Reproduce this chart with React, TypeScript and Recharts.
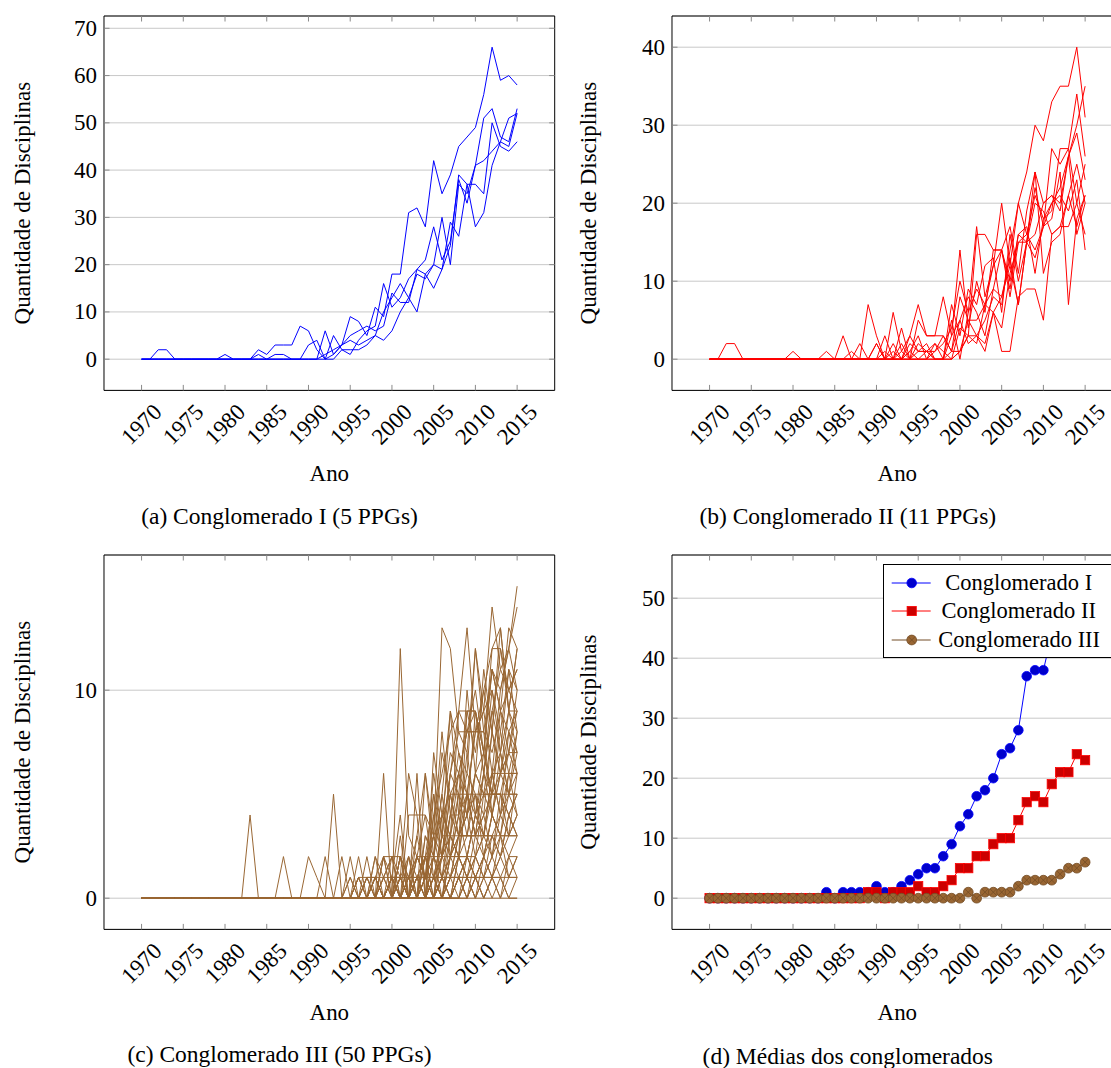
import React from 'react';
import { LineChart, Line, XAxis, YAxis, CartesianGrid, ReferenceArea, Legend } from 'recharts';

const years = [
  1970, 1971, 1972, 1973, 1974, 1975, 1976, 1977, 1978, 1979,
  1980, 1981, 1982, 1983, 1984, 1985, 1986, 1987, 1988, 1989,
  1990, 1991, 1992, 1993, 1994, 1995, 1996, 1997, 1998, 1999,
  2000, 2001, 2002, 2003, 2004, 2005, 2006, 2007, 2008, 2009,
  2010, 2011, 2012, 2013, 2014, 2015,
];
const xTicks = [1970, 1975, 1980, 1985, 1990, 1995, 2000, 2005, 2010, 2015];

// (a) Conglomerado I, 5 PPGs
const aSeries = [
  [0, 0, 0, 0, 0, 0, 0, 0, 0, 0, 0, 0, 0, 0, 2, 1, 3, 3, 3, 7, 6, 2, 0, 1, 3, 9, 8, 5, 11, 9, 18, 18, 31, 32, 28, 42, 35, 39, 45, 47, 49, 56, 66, 59, 60, 58],
  [0, 0, 0, 0, 0, 0, 0, 0, 0, 0, 0, 0, 0, 0, 1, 0, 1, 1, 0, 0, 3, 4, 0, 5, 2, 1, 4, 6, 7, 16, 11, 13, 17, 19, 21, 28, 21, 25, 38, 33, 41, 51, 53, 47, 46, 53],
  [0, 0, 0, 0, 0, 0, 0, 0, 0, 0, 0, 0, 0, 0, 0, 0, 0, 0, 0, 0, 0, 0, 6, 1, 3, 5, 6, 7, 6, 7, 14, 12, 12, 19, 18, 15, 19, 29, 26, 37, 37, 35, 50, 45, 44, 46],
  [0, 0, 0, 0, 0, 0, 0, 0, 0, 0, 0, 0, 0, 0, 0, 0, 0, 0, 0, 0, 0, 0, 1, 2, 3, 4, 3, 4, 5, 4, 6, 10, 13, 10, 18, 20, 19, 24, 39, 37, 28, 31, 41, 46, 51, 52],
  [0, 0, 2, 2, 0, 0, 0, 0, 0, 0, 1, 0, 0, 0, 0, 0, 0, 0, 0, 0, 0, 0, 0, 0, 2, 2, 2, 3, 5, 10, 13, 16, 13, 18, 17, 20, 30, 20, 37, 35, 41, 42, 44, 46, 45, 52],
];
const aTicks = [0, 10, 20, 30, 40, 50, 60, 70];

// (b) Conglomerado II, 11 PPGs
const bSeries = [
  [0, 0, 2, 2, 0, 0, 0, 0, 0, 0, 0, 0, 0, 0, 0, 0, 0, 0, 0, 0, 0, 0, 0, 0, 0, 0, 0, 0, 0, 0, 1, 3, 3, 5, 8, 7, 14, 20, 24, 30, 28, 33, 35, 35, 40, 31],
  [0, 0, 0, 0, 0, 0, 0, 0, 0, 0, 1, 0, 0, 0, 0, 0, 0, 0, 0, 7, 3, 0, 0, 1, 0, 2, 1, 1, 2, 4, 10, 6, 17, 8, 12, 14, 17, 11, 19, 24, 20, 21, 19, 26, 30, 35],
  [0, 0, 0, 0, 0, 0, 0, 0, 0, 0, 0, 0, 0, 0, 1, 0, 3, 0, 0, 0, 2, 0, 6, 1, 3, 7, 3, 3, 8, 3, 14, 4, 10, 6, 14, 14, 9, 16, 15, 22, 17, 27, 25, 27, 34, 26],
  [0, 0, 0, 0, 0, 0, 0, 0, 0, 0, 0, 0, 0, 0, 0, 0, 0, 1, 0, 0, 0, 3, 0, 4, 0, 5, 3, 3, 3, 1, 8, 5, 5, 7, 12, 20, 12, 20, 16, 21, 18, 19, 27, 27, 20, 25],
  [0, 0, 0, 0, 0, 0, 0, 0, 0, 0, 0, 0, 0, 0, 0, 0, 0, 0, 2, 0, 2, 0, 1, 0, 3, 1, 1, 2, 0, 7, 3, 9, 7, 12, 13, 6, 16, 10, 15, 16, 20, 21, 20, 26, 29, 23],
  [0, 0, 0, 0, 0, 0, 0, 0, 0, 0, 0, 0, 0, 0, 0, 0, 0, 0, 0, 0, 0, 1, 0, 0, 1, 3, 0, 1, 3, 1, 5, 8, 6, 3, 9, 8, 13, 7, 15, 13, 17, 18, 24, 7, 18, 21],
  [0, 0, 0, 0, 0, 0, 0, 0, 0, 0, 0, 0, 0, 0, 0, 0, 0, 0, 0, 0, 0, 0, 2, 0, 1, 0, 0, 2, 1, 0, 1, 5, 3, 2, 6, 4, 11, 15, 15, 20, 19, 16, 17, 21, 17, 21],
  [0, 0, 0, 0, 0, 0, 0, 0, 0, 0, 0, 0, 0, 0, 0, 0, 0, 0, 0, 0, 0, 0, 0, 2, 0, 1, 1, 0, 0, 5, 0, 6, 9, 7, 9, 14, 10, 16, 17, 11, 18, 20, 22, 26, 16, 20],
  [0, 0, 0, 0, 0, 0, 0, 0, 0, 0, 0, 0, 0, 0, 0, 0, 0, 0, 0, 0, 0, 0, 0, 0, 2, 1, 2, 0, 0, 1, 1, 3, 2, 7, 6, 1, 1, 8, 9, 9, 5, 16, 17, 17, 20, 16],
  [0, 0, 0, 0, 0, 0, 0, 0, 0, 0, 0, 0, 0, 0, 0, 0, 0, 0, 0, 0, 0, 0, 0, 0, 0, 0, 1, 0, 0, 0, 4, 3, 16, 16, 14, 14, 8, 15, 16, 14, 17, 20, 21, 19, 23, 14],
  [0, 0, 0, 0, 0, 0, 0, 0, 0, 0, 0, 0, 0, 0, 0, 0, 0, 0, 0, 0, 0, 0, 0, 0, 0, 0, 0, 0, 0, 3, 5, 2, 3, 1, 6, 8, 12, 7, 15, 24, 11, 15, 16, 21, 25, 20],
];
const bTicks = [0, 10, 20, 30, 40];

// (c) Conglomerado III, 50 PPGs: values 1995..2015 (all zero before, except the spikes below)
const cLate = [
  [0, 0, 0, 0, 6, 0, 12, 3, 2, 1, 4, 6, 8, 9, 8, 9, 7, 11, 10, 12, 15],
  [0, 0, 0, 0, 0, 0, 1, 6, 4, 4, 3, 13, 12, 8, 7, 12, 9, 14, 11, 12, 14],
  [0, 1, 0, 2, 0, 1, 0, 0, 6, 0, 7, 4, 3, 9, 13, 8, 10, 12, 13, 9, 12],
  [2, 0, 1, 0, 2, 0, 2, 1, 3, 6, 2, 5, 9, 7, 6, 12, 8, 11, 9, 13, 12],
  [0, 0, 2, 0, 0, 1, 4, 0, 2, 1, 6, 3, 6, 9, 9, 7, 10, 8, 12, 10, 11],
  [0, 2, 0, 1, 2, 0, 1, 2, 0, 3, 2, 7, 5, 6, 8, 8, 9, 10, 8, 11, 10],
  [1, 0, 0, 2, 1, 2, 0, 1, 2, 4, 1, 3, 6, 5, 9, 9, 6, 9, 11, 10, 9],
  [0, 0, 1, 1, 0, 0, 2, 0, 1, 2, 5, 2, 4, 6, 5, 8, 8, 7, 9, 8, 9],
  [0, 0, 0, 0, 1, 2, 0, 1, 1, 2, 3, 4, 5, 3, 7, 4, 6, 9, 7, 9, 8],
  [0, 1, 0, 0, 0, 1, 1, 0, 3, 1, 2, 5, 2, 5, 4, 6, 7, 5, 8, 6, 8],
  [0, 0, 0, 1, 0, 0, 2, 1, 0, 3, 2, 1, 4, 4, 6, 5, 4, 8, 6, 8, 7],
  [0, 0, 1, 0, 2, 1, 0, 2, 1, 0, 4, 2, 3, 5, 3, 6, 5, 6, 7, 5, 7],
  [1, 0, 0, 0, 1, 0, 3, 0, 2, 1, 1, 3, 2, 4, 5, 3, 6, 5, 6, 7, 6],
  [0, 0, 0, 0, 0, 2, 1, 1, 0, 2, 0, 2, 5, 3, 4, 5, 3, 6, 4, 6, 6],
  [0, 1, 0, 1, 0, 0, 0, 1, 2, 1, 3, 1, 2, 4, 2, 4, 5, 4, 6, 5, 6],
  [0, 0, 0, 0, 1, 0, 1, 0, 1, 0, 1, 2, 3, 2, 5, 3, 4, 5, 5, 4, 5],
  [0, 0, 1, 0, 0, 1, 0, 0, 0, 2, 1, 0, 2, 3, 3, 5, 2, 4, 3, 5, 5],
  [0, 0, 0, 0, 0, 0, 2, 0, 1, 1, 0, 2, 1, 3, 4, 2, 3, 5, 5, 4, 5],
  [0, 0, 0, 0, 0, 0, 0, 1, 0, 0, 2, 1, 3, 2, 2, 4, 3, 3, 4, 5, 4],
  [0, 0, 0, 1, 0, 0, 1, 0, 0, 1, 1, 0, 2, 2, 3, 3, 2, 4, 3, 3, 4],
  [0, 0, 0, 0, 0, 1, 0, 0, 1, 0, 0, 1, 1, 2, 1, 2, 3, 2, 4, 3, 4],
  [0, 0, 0, 0, 0, 0, 1, 0, 0, 0, 1, 0, 1, 1, 2, 1, 2, 3, 2, 4, 3],
  [0, 0, 0, 0, 0, 0, 0, 0, 0, 1, 0, 1, 0, 2, 1, 2, 1, 2, 3, 2, 3],
  [0, 0, 0, 0, 0, 0, 0, 0, 0, 0, 0, 0, 1, 1, 2, 1, 2, 1, 2, 3, 3],
  [0, 0, 0, 0, 0, 0, 0, 0, 1, 0, 0, 0, 0, 1, 1, 1, 1, 2, 1, 2, 2],
  [0, 0, 0, 0, 0, 0, 0, 0, 0, 0, 0, 1, 0, 0, 1, 0, 1, 1, 2, 1, 2],
  [0, 0, 0, 0, 0, 0, 0, 0, 0, 0, 0, 0, 0, 1, 0, 1, 0, 1, 1, 0, 1],
  [0, 0, 0, 0, 0, 0, 0, 0, 0, 0, 0, 0, 0, 0, 1, 0, 1, 0, 0, 1, 1],
  [0, 0, 0, 0, 0, 0, 0, 0, 0, 0, 1, 0, 0, 1, 0, 0, 0, 1, 0, 0, 0],
  [0, 0, 0, 0, 0, 0, 0, 0, 0, 0, 0, 0, 0, 0, 0, 1, 0, 0, 1, 0, 0],
  [0, 0, 0, 0, 0, 0, 0, 0, 0, 0, 1, 2, 5, 5, 5, 5, 5, 5, 5, 7, 9],
  [0, 0, 0, 0, 0, 1, 1, 1, 1, 1, 1, 1, 1, 3, 3, 3, 3, 3, 3, 3, 3],
  [0, 0, 0, 0, 2, 2, 2, 0, 0, 1, 3, 2, 6, 8, 8, 8, 8, 4, 6, 6, 6],
  [0, 0, 0, 0, 0, 0, 0, 4, 4, 0, 2, 0, 3, 2, 9, 9, 7, 12, 12, 9, 9],
  [0, 0, 0, 0, 0, 0, 0, 0, 2, 2, 2, 2, 2, 2, 2, 2, 5, 5, 5, 5, 5],
  [0, 1, 1, 1, 1, 1, 1, 0, 0, 1, 1, 1, 1, 1, 1, 1, 1, 1, 1, 1, 1],
  [0, 0, 0, 0, 0, 0, 0, 0, 0, 0, 0, 3, 3, 3, 3, 3, 3, 6, 6, 7, 7],
  [0, 0, 0, 0, 0, 1, 0, 0, 0, 2, 0, 4, 7, 6, 8, 10, 7, 11, 9, 10, 11],
  [0, 0, 0, 0, 0, 0, 0, 0, 0, 0, 5, 3, 9, 4, 10, 6, 11, 8, 13, 9, 12],
  [0, 0, 0, 0, 0, 0, 0, 2, 0, 6, 3, 8, 4, 7, 5, 8, 9, 6, 10, 12, 10],
  [0, 0, 0, 0, 0, 0, 0, 0, 0, 0, 2, 4, 3, 6, 4, 9, 6, 10, 7, 11, 8],
  [0, 0, 0, 1, 0, 0, 1, 0, 0, 0, 1, 2, 4, 3, 5, 4, 7, 5, 9, 7, 10],
  [0, 0, 0, 0, 0, 0, 0, 1, 0, 0, 0, 1, 2, 3, 4, 6, 5, 8, 6, 9, 7],
  [0, 0, 0, 0, 0, 0, 0, 0, 0, 0, 0, 0, 1, 2, 5, 3, 6, 4, 7, 5, 8],
  [0, 0, 0, 0, 0, 0, 0, 0, 0, 1, 0, 0, 2, 1, 2, 4, 3, 6, 4, 8, 6],
  [0, 0, 0, 0, 0, 0, 0, 0, 0, 0, 0, 1, 0, 2, 1, 3, 4, 2, 5, 3, 6],
  [0, 0, 0, 0, 0, 0, 0, 0, 0, 0, 0, 0, 1, 0, 2, 1, 2, 4, 3, 6, 4],
  [0, 0, 0, 0, 0, 0, 0, 0, 0, 0, 0, 0, 0, 1, 0, 2, 1, 3, 2, 4, 3],
  [0, 0, 0, 0, 0, 0, 0, 0, 0, 0, 0, 0, 0, 0, 1, 0, 2, 1, 3, 1, 2],
  [0, 0, 0, 0, 0, 0, 0, 0, 0, 0, 0, 0, 0, 0, 0, 1, 0, 1, 0, 2, 1],
];
const cFirstLateYear = 1995;
// [series index, year, value] for the isolated early spikes
const cEarly = [
  [4, 1983, 4],
  [5, 1987, 2],
  [6, 1990, 2],
  [6, 1991, 1],
  [7, 1992, 2],
  [8, 1993, 5],
  [9, 1994, 2],
];
const cTicks = [0, 10];

// (d) Médias dos conglomerados
const dMeanI = [0, 0, 0, 0, 0, 0, 0, 0, 0, 0, 0, 0, 0, 0, 1, 0, 1, 1, 1, 1, 2, 1, 1, 2, 3, 4, 5, 5, 7, 9, 12, 14, 17, 18, 20, 24, 25, 28, 37, 38, 38, 44, 50, 49, 50, 52];
const dMeanII = [0, 0, 0, 0, 0, 0, 0, 0, 0, 0, 0, 0, 0, 0, 0, 0, 0, 0, 0, 1, 1, 0, 1, 1, 1, 2, 1, 1, 2, 3, 5, 5, 7, 7, 9, 10, 10, 13, 16, 17, 16, 19, 21, 21, 24, 23];
const dMeanIII = [0, 0, 0, 0, 0, 0, 0, 0, 0, 0, 0, 0, 0, 0, 0, 0, 0, 0, 0, 0, 0, 0, 0, 0, 0, 0, 0, 0, 0, 0, 0, 1, 0, 1, 1, 1, 1, 2, 3, 3, 3, 3, 4, 5, 5, 6];
const dNames = ['Conglomerado I', 'Conglomerado II', 'Conglomerado III'];
const dTicks = [0, 10, 20, 30, 40, 50];

const FONT = '"Liberation Serif", "Times New Roman", Times, serif';
const PLOT_W = 450.7;
const PLOT_H = 374.4;
const PAD_L = 100;
const PAD_T = 5;
const AXIS_H = 100;
const TICK_LEN = 5.5;
const TICK_COLOR = '#8a8a8a';
const TICK_FONT = 23;

function toRows(series: number[][]) {
  return years.map((year, i) => {
    const row: Record<string, number> = { year };
    series.forEach((s, k) => {
      row['s' + k] = s[i];
    });
    return row;
  });
}

const cSeries = cLate.map((late, k) =>
  years.map((y) => {
    if (y >= cFirstLateYear) return late[y - cFirstLateYear];
    const spike = cEarly.find((e) => e[0] === k && e[1] === y);
    return spike ? spike[2] : 0;
  })
);

const XTick = (props: any) => {
  const { x, y, payload } = props;
  return (
    <g>
      <line x1={x} y1={y} x2={x} y2={y - TICK_LEN} stroke={TICK_COLOR} />
      <line x1={x} y1={y - PLOT_H} x2={x} y2={y - PLOT_H + TICK_LEN} stroke={TICK_COLOR} />
      <text
        x={x}
        y={y + 34}
        transform={`rotate(-45 ${x} ${y + 34})`}
        textAnchor="middle"
        dominantBaseline="central"
        fontFamily={FONT}
        fontSize={TICK_FONT}
        fill="#000"
      >
        {payload.value}
      </text>
    </g>
  );
};

const YTick = (props: any) => {
  const { x, y, payload } = props;
  const left = x + 7;
  return (
    <g>
      <line x1={left} y1={y} x2={left + TICK_LEN} y2={y} stroke={TICK_COLOR} />
      <line x1={left + PLOT_W} y1={y} x2={left + PLOT_W - TICK_LEN} y2={y} stroke={TICK_COLOR} />
      <text x={x} y={y} textAnchor="end" dominantBaseline="central" fontFamily={FONT} fontSize={TICK_FONT} fill="#000">
        {payload.value}
      </text>
    </g>
  );
};

const Dot = ({ cx, cy, kind }: { cx: number; cy: number; kind: number }) => {
  if (kind === 0) return <circle cx={cx} cy={cy} r={4.8} fill="#0000cc" stroke="#0000ff" strokeWidth={0.8} />;
  if (kind === 1) return <rect x={cx - 4.6} y={cy - 4.6} width={9.2} height={9.2} fill="#cc0000" stroke="#ff0000" strokeWidth={0.8} />;
  return (
    <g>
      <circle cx={cx} cy={cy} r={4.9} fill="#996633" stroke="#734d26" strokeWidth={0.8} />
      <line x1={cx - 3.4} y1={cy - 3.4} x2={cx + 3.4} y2={cy + 3.4} stroke="#734d26" strokeWidth={0.8} />
      <line x1={cx - 3.4} y1={cy + 3.4} x2={cx + 3.4} y2={cy - 3.4} stroke="#734d26" strokeWidth={0.8} />
    </g>
  );
};

const dColors = ['#0000ff', '#ff0000', '#734d26'];

const renderLegend = () => (
  <div
    style={{
      width: 240,
      height: 94,
      boxSizing: 'border-box',
      border: '1px solid #000',
      background: '#fff',
      paddingTop: 4,
      fontFamily: FONT,
      fontSize: 22.5,
      color: '#000',
    }}
  >
    {dNames.map((name, k) => (
      <div key={name} style={{ display: 'flex', alignItems: 'center', height: 28.5 }}>
        <svg width={54} height={20} style={{ flex: 'none' }}>
          <line x1={7.7} y1={10} x2={46.7} y2={10} stroke={dColors[k]} strokeWidth={1} />
          <Dot cx={27.7} cy={10} kind={k} />
        </svg>
        <span style={{ width: 161, textAlign: 'center', whiteSpace: 'nowrap', lineHeight: 1 }}>{name}</span>
      </div>
    ))}
  </div>
);

interface PanelProps {
  left: number;
  top: number;
  data: Record<string, number>[];
  yDomain: number[];
  yTicks: number[];
  yLabel: string;
  yLabelGap: number;
  children: React.ReactNode;
}

function Panel({ left, top, data, yDomain, yTicks, yLabel, yLabelGap, children }: PanelProps) {
  return (
    <div style={{ position: 'absolute', left: left - PAD_L, top: top - PAD_T }}>
      <LineChart
        width={PAD_L + PLOT_W + 5}
        height={PAD_T + PLOT_H + AXIS_H}
        data={data}
        margin={{ top: PAD_T, right: 5, bottom: 0, left: 0 }}
      >
        <CartesianGrid horizontal vertical={false} stroke="#c8c8c8" strokeWidth={1} />
        <XAxis
          dataKey="year"
          type="number"
          domain={[1965.5, 2019.5]}
          allowDataOverflow
          ticks={xTicks}
          interval={0}
          height={AXIS_H}
          axisLine={false}
          tickLine={false}
          tickSize={0}
          tickMargin={0}
          tick={XTick}
          label={{
            content: () => (
              <text
                x={PAD_L + PLOT_W / 2}
                y={PAD_T + PLOT_H + 83.5}
                textAnchor="middle"
                dominantBaseline="central"
                fontFamily={FONT}
                fontSize={23}
                fill="#000"
              >
                Ano
              </text>
            ),
          }}
        />
        <YAxis
          type="number"
          domain={yDomain}
          allowDataOverflow
          ticks={yTicks}
          interval={0}
          width={PAD_L}
          axisLine={false}
          tickLine={false}
          tickSize={0}
          tickMargin={7}
          tick={YTick}
          label={{
            content: () => (
              <text
                x={PAD_L - yLabelGap}
                y={PAD_T + PLOT_H / 2}
                transform={`rotate(-90 ${PAD_L - yLabelGap} ${PAD_T + PLOT_H / 2})`}
                textAnchor="middle"
                dominantBaseline="central"
                fontFamily={FONT}
                fontSize={23}
                fill="#000"
              >
                {yLabel}
              </text>
            ),
          }}
        />
        {children}
        <ReferenceArea
          x1={1965.5}
          x2={2019.5}
          y1={yDomain[0]}
          y2={yDomain[1]}
          fill="none"
          fillOpacity={0}
          stroke="#000"
          strokeWidth={1}
          ifOverflow="visible"
        />
      </LineChart>
    </div>
  );
}

const Caption = ({ x, y, text }: { x: number; y: number; text: string }) => (
  <div
    style={{
      position: 'absolute',
      left: x,
      top: y,
      transform: 'translate(-50%, -50%)',
      whiteSpace: 'nowrap',
      fontFamily: FONT,
      fontSize: 23.5,
      lineHeight: 1,
      color: '#000',
    }}
  >
    {text}
  </div>
);

const thinLines = (series: number[][], color: string) =>
  series.map((_, k) => (
    <Line
      key={k}
      type="linear"
      dataKey={'s' + k}
      stroke={color}
      strokeWidth={1}
      dot={false}
      activeDot={false}
      isAnimationActive={false}
    />
  ));

export default function App() {
  const aData = toRows(aSeries);
  const bData = toRows(bSeries);
  const cData = toRows(cSeries);
  const dData = toRows([dMeanI, dMeanII, dMeanIII]);

  return (
    <div
      style={{
        position: 'fixed',
        left: 0,
        top: 0,
        width: 1111,
        height: 1068,
        overflow: 'hidden',
        background: '#fff',
      }}
    >
      <Panel left={103.6} top={15.5} data={aData} yDomain={[-6.6, 72.6]} yTicks={aTicks} yLabel="Quantidade de Disciplinas" yLabelGap={81.6}>
        {thinLines(aSeries, '#0000ff')}
      </Panel>
      <Panel left={672.4} top={15.5} data={bData} yDomain={[-4, 44]} yTicks={bTicks} yLabel="Quantidade de Disciplinas" yLabelGap={83.6}>
        {thinLines(bSeries, '#ff0000')}
      </Panel>
      <Panel left={103.6} top={555.2} data={cData} yDomain={[-1.5, 16.5]} yTicks={cTicks} yLabel="Quantidade de Disciplinas" yLabelGap={81.6}>
        {thinLines(cSeries, '#996633')}
      </Panel>
      <Panel left={672.4} top={555.2} data={dData} yDomain={[-5.2, 57.2]} yTicks={dTicks} yLabel="Quantidade Disciplinas" yLabelGap={83.6}>
        {dNames.map((name, k) => (
          <Line
            key={name}
            name={name}
            type="linear"
            dataKey={'s' + k}
            stroke={dColors[k]}
            strokeWidth={1}
            dot={(p: any) => <Dot key={p.index} cx={p.cx} cy={p.cy} kind={k} />}
            activeDot={false}
            isAnimationActive={false}
          />
        ))}
        <Legend
          layout="horizontal"
          verticalAlign="middle"
          align="center"
          content={renderLegend}
          wrapperStyle={{ left: 310.9, top: 13.4, width: 240, height: 94 }}
        />
      </Panel>
      <Caption x={279.5} y={516.5} text="(a) Conglomerado I (5 PPGs)" />
      <Caption x={847.8} y={516.5} text="(b) Conglomerado II (11 PPGs)" />
      <Caption x={279.5} y={1055} text="(c) Conglomerado III (50 PPGs)" />
      <Caption x={847.8} y={1056.8} text="(d) Médias dos conglomerados" />
    </div>
  );
}
